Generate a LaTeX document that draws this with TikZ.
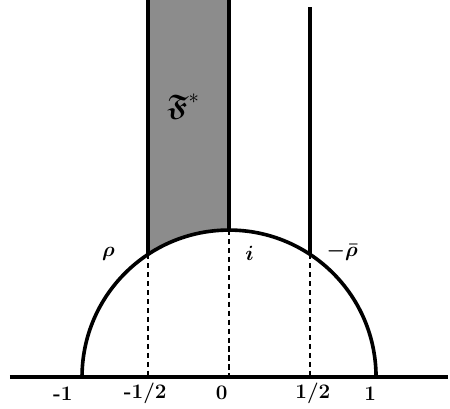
\documentclass[tikz,border=0pt]{standalone}
\usepackage{amsmath,amssymb,bm}
\usetikzlibrary{positioning}

\begin{document}
\begin{tikzpicture}[
        x=3cm, y=3cm,
        faixa/.style={fill=black!45},
        borda/.style={line width=2.2pt},
        curva/.style={line width=2.1pt},
        eixo/.style={line width=2.2pt},
        tracejado/.style={line width=1.4pt, dash pattern=on 3pt off 2.2pt},
        rotulo/.style={font=\large\bfseries}
    ]
        \useasboundingbox (-1.558,-0.211) rectangle (1.503,2.565);

        % Pontos
        \coordinate (topo) at (-0.55,2.565);
        \coordinate (topo0) at (0,2.565);
        \coordinate (topoR) at (0.55,2.517);
        \coordinate (rho) at ({-0.55},{sqrt(1-0.55^2)});
        \coordinate (ii) at (0,1);
        \coordinate (mrho) at ({0.55},{sqrt(1-0.55^2)});
        \coordinate (pe1) at (-0.55,0);
        \coordinate (pe0) at (0,0);
        \coordinate (pe2) at (0.55,0);

        % Faixa
        \fill[faixa] (topo) -- (rho) arc[start angle=123.37, end angle=90, radius=1] -- (topo0) -- cycle;
        \draw[borda] (topo) -- (rho);
        \draw[borda] (ii) -- (topo0);
        \draw[borda] (topoR) -- (mrho);

        % Arco e eixo
        \draw[curva] (1,0) arc[start angle=0, end angle=180, radius=1];
        \draw[eixo] (-1.49,0) -- (1.49,0);
        \draw[tracejado] (rho) -- (pe1);
        \draw[tracejado] (ii) -- (pe0);
        \draw[tracejado] (mrho) -- (pe2);

        % Rótulos
        \node[rotulo] (lm1) at (-1.13,-0.11) {-1};
        \node[rotulo] (lmh) at (-0.57,-0.11) {-1/2};
        \node[rotulo] (l0) at (-0.05,-0.11) {0};
        \node[rotulo] (lh) at (0.57,-0.11) {1/2};
        \node[rotulo] (l1) at (0.96,-0.11) {1};
        \node[font=\large] (lrho) at (-0.82,0.84) {$\boldsymbol{\rho}$};
        \node[font=\large] (li) at (0.14,0.84) {$\boldsymbol{i}$};
        \node[font=\large, inner sep=1pt] (lmrho) at (0.77,0.85) {$\boldsymbol{-\bar{\rho}}$};
        \node[font=\LARGE] (lF) at (-0.31,1.84) {$\boldsymbol{\mathfrak{F}}^{*}$};
    \end{tikzpicture}
\end{document}
